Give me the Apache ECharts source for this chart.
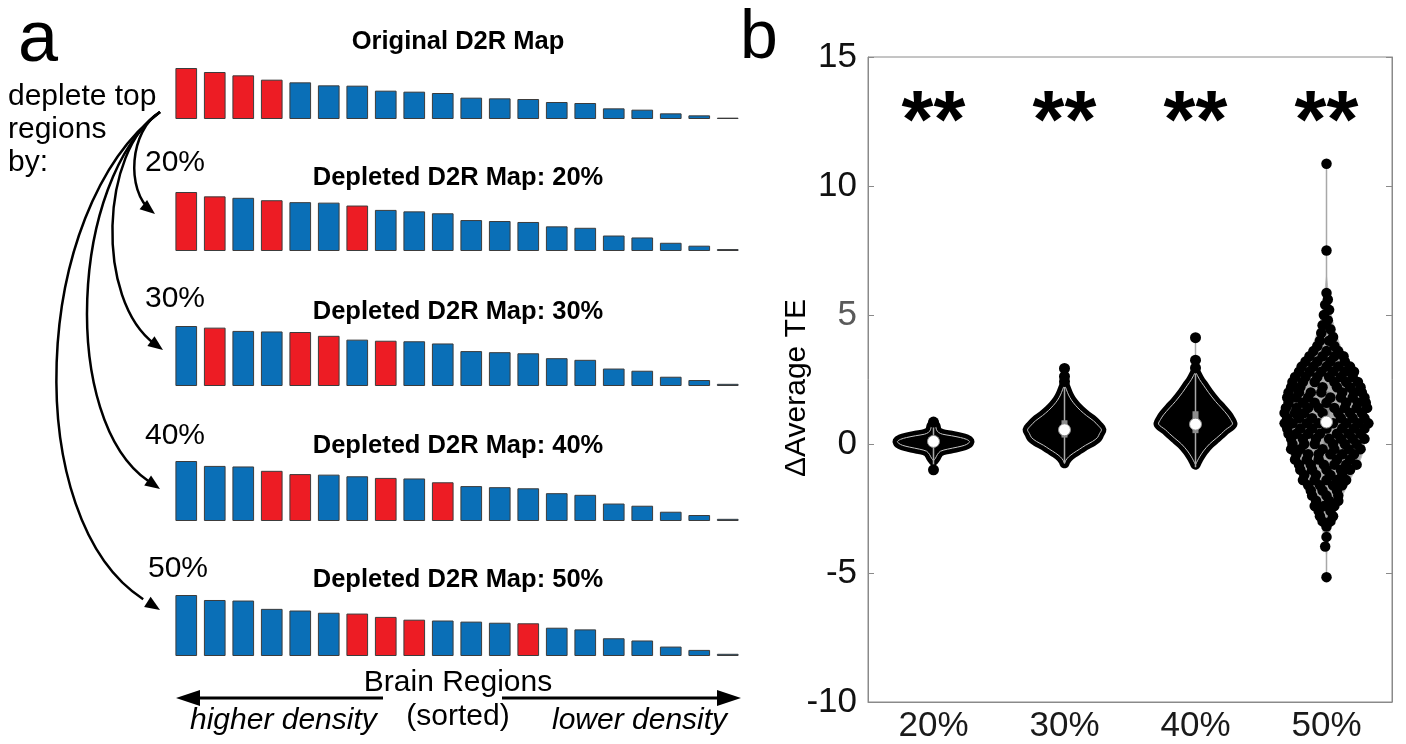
<!DOCTYPE html>
<html><head><meta charset="utf-8">
<script src="https://cdn.jsdelivr.net/npm/echarts@6/dist/echarts.min.js"></script>
<style>html,body{margin:0;padding:0;background:#fff}#c{width:1406px;height:744px}</style>
</head><body><div id="c"></div>
<script>
// ---------------- Panel a data (D2R density per brain region, sorted) ----------------
const regions = ['R1','R2','R3','R4','R5','R6','R7','R8','R9','R10','R11','R12','R13','R14','R15','R16','R17','R18','R19','R20'];
const mapTitles = ['Original D2R Map','Depleted D2R Map: 20%','Depleted D2R Map: 30%','Depleted D2R Map: 40%','Depleted D2R Map: 50%'];
const origVals  = [153,141,131,118,110,101,100,85,82,78,64,62,60,51,48,32,28,17,11,4];
const dep20Vals = [122,113,110,105,101,100,94,85,82,78,64,62,60,51,48,32,28,17,11,4];
const dep30Vals = [110,107,101,100,99,92,85,83,82,78,64,62,60,51,48,32,28,17,11,4];
const dep40Vals = [110,101,100,92,86,85,82,79,78,71,64,62,60,51,48,32,28,17,11,4];
const dep50Vals = [110,101,100,85,82,78,76.5,70.5,65.5,64,62,60,59,51,48,32,28,17,11,4];
// indices of the depleted (top) regions in each map
const origRed  = [0,1,2,3];
const dep20Red = [0,1,3,6];
const dep30Red = [1,4,5,7];
const dep40Red = [3,4,7,9];
const dep50Red = [6,7,8,12];
const depleteLabels = ['20%','30%','40%','50%'];

// ---------------- Panel b data (ΔAverage TE) ----------------
const groups = ['20%','30%','40%','50%'];
const sigLabels = ['**','**','**','**'];
const medians = [0.10, 0.55, 0.77, 0.85];
const q1 = [-0.02, 0.25, 0.42, -0.27];
const q3 = [0.22, 0.92, 1.27, 2.04];
const whiskLo = [-1.0, -0.75, -0.9, -5.16];
const whiskHi = [0.85, 2.93, 4.12, 10.86];
// violin density profiles: [value, half-width as fraction of category width]
const violin20 = [[0.80,0],[0.70,0.015],[0.55,0.023],[0.45,0.038],[0.38,0.069],[0.32,0.137],[0.25,0.206],[0.18,0.252],[0.10,0.275],[0.03,0.267],[-0.05,0.237],[-0.12,0.183],[-0.20,0.107],[-0.28,0.053],[-0.40,0.031],[-0.55,0.015],[-0.65,0]];
const violin30 = [[2.3,0],[2.1,0.015],[1.9,0.031],[1.7,0.053],[1.5,0.084],[1.3,0.122],[1.1,0.168],[0.9,0.221],[0.7,0.26],[0.55,0.282],[0.4,0.267],[0.25,0.252],[0.1,0.214],[-0.05,0.16],[-0.2,0.115],[-0.35,0.069],[-0.5,0.031],[-0.65,0.008],[-0.75,0]];
const violin40 = [[2.8,0],[2.5,0.031],[2.28,0.061],[2.0,0.099],[1.65,0.153],[1.4,0.198],[1.13,0.244],[0.95,0.267],[0.77,0.282],[0.55,0.229],[0.4,0.198],[0.23,0.16],[0,0.107],[-0.27,0.061],[-0.5,0.031],[-0.65,0.015],[-0.8,0]];
const violin50 = [[6.5,0],[6.0,0.011],[5.5,0.023],[5.0,0.038],[4.5,0.061],[4.0,0.092],[3.5,0.13],[3.0,0.183],[2.5,0.237],[2.0,0.267],[1.5,0.29],[1.0,0.298],[0.5,0.298],[0,0.29],[-0.5,0.267],[-1.0,0.221],[-1.5,0.168],[-2.0,0.122],[-2.5,0.076],[-3.0,0.046],[-3.5,0.023],[-4.0,0.008],[-4.3,0]];
// isolated points outside the dense blobs of 20/30/40%: [group, value]
const outlierPts = [[0,0.85],[0,-1.0],[1,2.93],[1,2.62],[1,2.42],[2,4.12],[2,3.25],[2,2.95]];
// 50% swarm: [value, [jitter offsets]]
const swarm50 = [
 [10.86,[0]],[7.5,[0]],[5.85,[0]],[5.6,[0.01]],[5.4,[-0.01]],[5.2,[0.02]],[5.0,[-0.02]],[4.8,[0.01]],[4.6,[-0.03]],[4.45,[0.03]],[4.3,[-0.04]],[4.15,[0.05]],[4.0,[-0.05,0.02]],
 [3.8,[-0.07,0.06]],[3.6,[-0.1,0,0.09]],[3.4,[-0.13,-0.03,0.06,0.13]],[3.2,[-0.16,-0.07,0.03,0.14]],[3.0,[-0.19,-0.1,0,0.09,0.18]],
 [2.8,[-0.21,-0.13,-0.04,0.05,0.14,0.21]],[2.6,[-0.24,-0.16,-0.07,0.02,0.11,0.2]],[2.4,[-0.26,-0.18,-0.09,0.06,0.15,0.24]],
 [2.2,[-0.27,-0.2,-0.03,0.08,0.18,0.26]],[2.0,[-0.29,-0.21,-0.12,-0.04,0.12,0.21,0.27]],[1.8,[-0.3,-0.23,-0.14,0.03,0.11,0.2,0.29]],
 [1.6,[-0.29,-0.18,-0.09,0,0.15,0.24,0.3]],[1.4,[-0.31,-0.23,-0.14,-0.06,0.06,0.14,0.23,0.31]],[1.2,[-0.32,-0.24,-0.17,-0.03,0.09,0.18,0.27]],
 [1.0,[-0.3,-0.21,-0.11,0.11,0.2,0.29]],[0.8,[-0.32,-0.26,-0.15,-0.06,0.05,0.15,0.24,0.32]],[0.6,[-0.3,-0.2,-0.11,0,0.12,0.21,0.29]],
 [0.4,[-0.29,-0.23,-0.14,-0.05,0.08,0.17,0.26]],[0.2,[-0.27,-0.18,-0.08,0.02,0.11,0.2,0.29]],[0.0,[-0.26,-0.17,-0.09,0.05,0.14,0.23]],
 [-0.2,[-0.27,-0.2,-0.03,0.06,0.17,0.26]],[-0.4,[-0.23,-0.14,-0.06,0.03,0.12,0.21]],[-0.6,[-0.24,-0.15,-0.06,0.08,0.18]],
 [-0.8,[-0.21,-0.12,-0.02,0.06,0.15,0.23]],[-1.0,[-0.2,-0.11,0,0.11,0.18]],[-1.2,[-0.17,-0.08,0.03,0.12]],
 [-1.4,[-0.18,-0.09,0,0.08,0.15]],[-1.6,[-0.14,-0.05,0.05,0.12]],[-1.8,[-0.12,-0.03,0.08]],[-2.0,[-0.11,0,0.09]],
 [-2.2,[-0.08,0.02,0.09]],[-2.4,[-0.09,-0.02,0.06]],[-2.6,[-0.06,0.03]],[-2.8,[-0.05,0.05]],[-3.0,[-0.03,0.03]],[-3.2,[0]],
 [-3.6,[0]],[-3.97,[-0.01]],[-5.16,[0]]
];
const yTicks = {min:-10, max:15, interval:5};
const yLabelText = 'ΔAverage TE';

// ---------------- build ----------------
const FONT = '"Liberation Sans", Arial, Helvetica, sans-serif';
const RED = '#ED1C24', BLUE = '#0A6FB7';
const chart = echarts.init(document.getElementById('c'));

const barVals = [origVals, dep20Vals, dep30Vals, dep40Vals, dep50Vals];
const barReds = [origRed, dep20Red, dep30Red, dep40Red, dep50Red];
const barLayout = [[68,51],[192,59],[326,60],[461,60],[595,61]];
const titleY = [42,178,312,446,580];

const grids = [], xAxes = [], yAxes = [], series = [];
barVals.forEach((vals, i) => {
  grids.push({left:172, width:570, top:barLayout[i][0], height:barLayout[i][1]});
  xAxes.push({type:'category', gridIndex:i, data:regions, show:false, boundaryGap:true});
  yAxes.push({type:'value', gridIndex:i, min:0, max:'dataMax', show:false});
  series.push({type:'bar', xAxisIndex:i, yAxisIndex:i, barWidth:'76%', silent:true,
    data: vals.map((v,j)=>({value:v, itemStyle:{color: barReds[i].includes(j)?RED:BLUE}})),
    itemStyle:{borderColor:'#3c3c3c', borderWidth:1}});
});

// panel b
grids.push({left:868, right:14, top:57, bottom:38, show:true, borderColor:'#8a8a8a', borderWidth:1});
const AX = '#8a8a8a';
xAxes.push({type:'category', gridIndex:5, data:groups, boundaryGap:true,
  axisLine:{onZero:false, lineStyle:{color:AX}}, axisTick:{inside:true, alignWithLabel:true, length:6, lineStyle:{color:AX}},
  axisLabel:{fontSize:35, fontFamily:FONT, color:'#1a1a1a', margin:7}});
xAxes.push({type:'value', gridIndex:5, min:-0.5, max:3.5, show:false, axisLine:{onZero:false}});
yAxes.push({type:'value', gridIndex:5, min:yTicks.min, max:yTicks.max, interval:yTicks.interval,
  axisLine:{show:true, onZero:false, lineStyle:{color:AX}}, axisTick:{show:true, inside:true, length:6, lineStyle:{color:AX}},
  splitLine:{show:false},
  axisLabel:{fontSize:35, fontFamily:FONT, margin:11, color:(v)=> (Math.abs(v)===5 && v>0) || v===0 ? '#5a5a5a' : '#111'}});
yAxes.push({type:'value', gridIndex:5, position:'right', min:yTicks.min, max:yTicks.max, interval:yTicks.interval,
  axisLine:{show:true, onZero:false, lineStyle:{color:AX}}, axisTick:{show:true, inside:true, length:6, lineStyle:{color:AX}},
  splitLine:{show:false}, axisLabel:{show:false}});

const profiles = [violin20, violin30, violin40, violin50];
function violinPoints(i, api){
  const prof = profiles[i];
  const right = prof.map(p => api.coord([i + p[1], p[0]]));
  const left = prof.slice().reverse().map(p => api.coord([i - p[1], p[0]]));
  return right.concat(left);
}
const common = {xAxisIndex:6, yAxisIndex:5, silent:true, clip:false};
// dense blobs (20/30/40%)
series.push(Object.assign({type:'custom', data:[[0,0],[1,0],[2,0]],
  renderItem:(p, api)=>({type:'polygon', shape:{points:violinPoints(api.value(0), api), smooth:0.3},
    style:{fill:'#000', stroke:'#000', lineWidth:10, lineJoin:'round'}})}, common));
// 50% violin fill
series.push(Object.assign({type:'custom', data:[[3,0]],
  renderItem:(p, api)=>({type:'polygon', shape:{points:violinPoints(api.value(0), api), smooth:0.3},
    style:{fill:'#ababab', stroke:null}})}, common));
// isolated points
series.push(Object.assign({type:'scatter', data:outlierPts, symbolSize:11, itemStyle:{color:'#000', opacity:1}}, common));
// 50% swarm
const swarmData = [];
swarm50.forEach(r => r[1].forEach(dx => swarmData.push([3 + dx, r[0]])));
series.push(Object.assign({type:'scatter', data:swarmData, symbolSize:10.5, itemStyle:{color:'#000', opacity:1}}, common));
// violin outlines
series.push(Object.assign({type:'custom', data:[[0,0],[1,0],[2,0],[3,0]],
  renderItem:(p, api)=>({type:'polygon', shape:{points:violinPoints(api.value(0), api), smooth:0.3},
    style:{fill:null, stroke:'#c4c4c4', lineWidth:1}})}, common));
// whiskers
series.push(Object.assign({type:'custom', data:groups.map((g,i)=>[i, whiskLo[i], whiskHi[i]]),
  encode:{x:0, y:[1,2]},
  renderItem:(p, api)=>{const a=api.coord([api.value(0), api.value(1)]), b=api.coord([api.value(0), api.value(2)]);
    return {type:'line', shape:{x1:a[0],y1:a[1],x2:b[0],y2:b[1]}, style:{stroke:'#a8a8a8', lineWidth:1.5}};}}, common));
// IQR boxes
series.push(Object.assign({type:'custom', data:groups.map((g,i)=>[i, q1[i], q3[i]]),
  encode:{x:0, y:[1,2]},
  renderItem:(p, api)=>{const a=api.coord([api.value(0), api.value(2)]), b=api.coord([api.value(0), api.value(1)]);
    return {type:'rect', shape:{x:a[0]-3, y:a[1], width:6, height:b[1]-a[1]}, style:{fill:'#8c8c8c'}};}}, common));
// medians
series.push(Object.assign({type:'scatter', data:groups.map((g,i)=>[i, medians[i]]), symbolSize:12,
  itemStyle:{color:'#fff', borderColor:'#8c8c8c', borderWidth:1, opacity:1}}, common));
// significance stars
series.push(Object.assign({type:'scatter', data:groups.map((g,i)=>[i, 12.4]), symbolSize:1,
  itemStyle:{color:'rgba(0,0,0,0)', opacity:1},
  label:{show:true, position:'inside', formatter:(p)=>sigLabels[p.dataIndex], fontSize:82, fontWeight:'bold',
    fontFamily:FONT, color:'#000', textBorderWidth:0}}, common));

// ---------------- annotations (graphic) ----------------
const g = [];
function txt(x, y, s, size, opts){ g.push({type:'text', x:x, y:y, silent:true,
  style:Object.assign({text:s, fontSize:size, fontFamily:FONT, fill:'#000', align:'left', verticalAlign:'middle'}, opts||{})}); }
function head(tip, from, len, hw){
  const dx = tip[0]-from[0], dy = tip[1]-from[1], L = Math.hypot(dx,dy), ux = dx/L, uy = dy/L;
  const bx = tip[0]-ux*len, by = tip[1]-uy*len;
  g.push({type:'polygon', silent:true, shape:{points:[tip,[bx-uy*hw, by+ux*hw],[bx+uy*hw, by-ux*hw]]}, style:{fill:'#000'}});
}
txt(18, 41, 'a', 72);
txt(740, 39, 'b', 68);
txt(8, 97, 'deplete top', 30);
txt(8, 130, 'regions', 30);
txt(8, 163, 'by:', 30);
const pctPos = [[145,163],[145,299],[145,436],[148,569]];
depleteLabels.forEach((s,i)=>txt(pctPos[i][0], pctPos[i][1], s, 30));
mapTitles.forEach((s,i)=>txt(458, titleY[i], s, 25.5, {fontWeight:'bold', align:'center'}));
// y-axis title of panel b
g.push({type:'text', x:797, y:388, rotation:Math.PI/2, silent:true,
  style:{text:yLabelText, fontSize:30, fontFamily:FONT, fill:'#000', align:'center', verticalAlign:'middle'}});
// curved arrows
const S = [160,112];
const curves = [
  [[130,130],[125,190],[155,214]],
  [[100,150],[95,300],[163,350]],
  [[70,180],[60,420],[160,489]],
  [[30,210],[20,520],[160,610]]
];
curves.forEach(c=>{
  const endBack = [c[2][0]-(c[2][0]-c[1][0])*0.12, c[2][1]-(c[2][1]-c[1][1])*0.12];
  g.push({type:'bezierCurve', silent:true, shape:{x1:S[0],y1:S[1],cpx1:c[0][0],cpy1:c[0][1],cpx2:c[1][0],cpy2:c[1][1],x2:endBack[0],y2:endBack[1]},
    style:{stroke:'#000', lineWidth:2.5, fill:null}});
  head(c[2], c[1], 15, 6);
});
// bottom labels
txt(458, 683, 'Brain Regions', 30, {align:'center'});
txt(458, 717, '(sorted)', 30, {align:'center'});
txt(190, 721, 'higher density', 30, {fontStyle:'italic'});
txt(552, 721, 'lower density', 30, {fontStyle:'italic'});
g.push({type:'line', silent:true, shape:{x1:383,y1:698,x2:196,y2:698}, style:{stroke:'#000', lineWidth:3}});
head([176,698],[200,698], 24, 8);
g.push({type:'line', silent:true, shape:{x1:502,y1:698,x2:722,y2:698}, style:{stroke:'#000', lineWidth:3}});
head([741,698],[720,698], 24, 8);

chart.setOption({animation:false, backgroundColor:'#fff', grid:grids, xAxis:xAxes, yAxis:yAxes, series:series, graphic:g});
</script></body></html>
